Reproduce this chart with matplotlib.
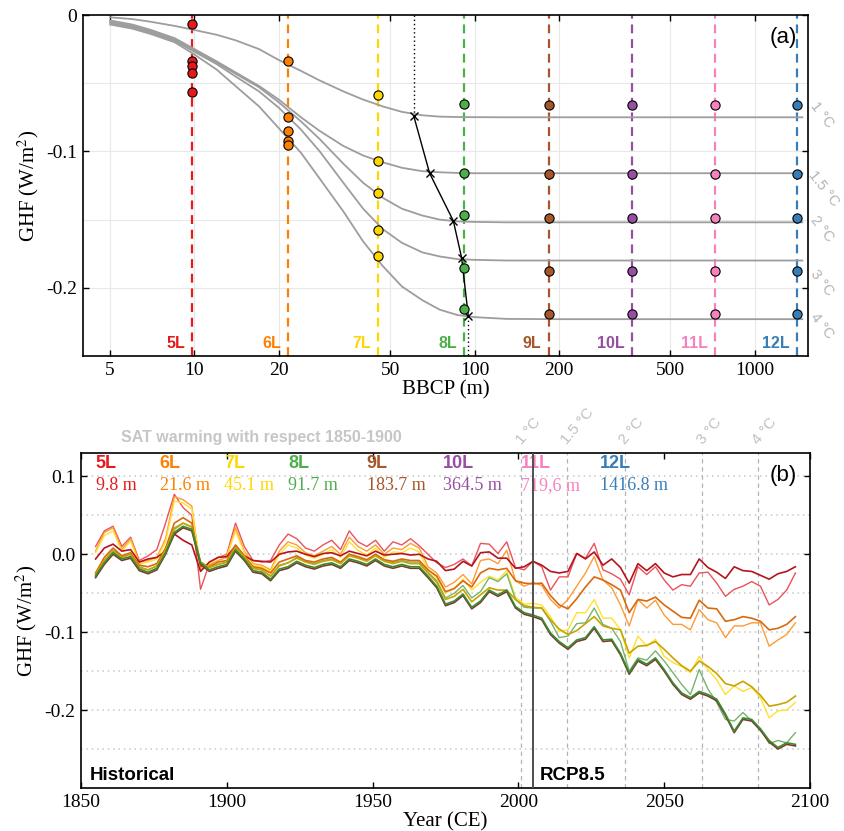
import numpy as np
import matplotlib.pyplot as plt
from matplotlib.ticker import NullLocator
from matplotlib.transforms import blended_transform_factory

plt.rcParams['font.family'] = 'Liberation Serif'
plt.rcParams['mathtext.fontset'] = 'stix'
plt.rcParams['axes.unicode_minus'] = False
SANS = 'Liberation Sans'

# ---------------- data, panel (a) ----------------
layers = ['5L', '6L', '7L', '8L', '9L', '10L', '11L', '12L']
bbcp = [9.8, 21.6, 45.1, 91.7, 183.7, 364.5, 719.6, 1416.8]
depth_labels = ['9.8 m', '21.6 m', '45.1 m', '91.7 m', '183.7 m', '364.5 m', '719,6 m', '1416.8 m']
layer_colors = ['#e41a1c', '#ff7f00', '#ffd700', '#4daf4a', '#a65628', '#984ea3', '#f781bf', '#377eb8']

warming = ['1 °C', '1.5 °C', '2 °C', '3 °C', '4 °C']
# GHF of each layer model for each warming level
ghf_1c = [-0.0066, -0.0334, -0.0585, -0.0654, -0.0657, -0.0657, -0.0657, -0.0657]
ghf_15c = [-0.0337, -0.0749, -0.1068, -0.1156, -0.1167, -0.1167, -0.1167, -0.1167]
ghf_2c = [-0.0373, -0.0854, -0.1307, -0.1468, -0.1485, -0.1485, -0.1485, -0.1485]
ghf_3c = [-0.0427, -0.0927, -0.1578, -0.1856, -0.1880, -0.1880, -0.1880, -0.1880]
ghf_4c = [-0.0561, -0.0951, -0.1766, -0.2154, -0.2194, -0.2194, -0.2194, -0.2194]

# gray reference curves (GHF vs BBCP)
curve_x = [5, 6, 7, 8.5, 10, 12, 14, 17, 20, 24, 28, 34, 40, 47, 55, 65, 75, 87, 100, 130, 200, 1480]
curve_1c = [-0.0017, -0.003, -0.005, -0.008, -0.011, -0.0145, -0.0185, -0.025, -0.033, -0.041, -0.048,
            -0.056, -0.062, -0.067, -0.071, -0.0735, -0.0745, -0.0748, -0.0749, -0.075, -0.075, -0.075]
curve_15c = [-0.004, -0.007, -0.011, -0.017, -0.025, -0.034, -0.042, -0.052, -0.062, -0.075, -0.085,
             -0.096, -0.103, -0.108, -0.112, -0.1145, -0.1153, -0.1158, -0.116, -0.116, -0.116, -0.116]
curve_2c = [-0.005, -0.008, -0.012, -0.018, -0.026, -0.035, -0.043, -0.053, -0.064, -0.078, -0.091,
            -0.109, -0.123, -0.134, -0.142, -0.147, -0.150, -0.1513, -0.1517, -0.152, -0.152, -0.152]
curve_3c = [-0.006, -0.009, -0.013, -0.019, -0.027, -0.036, -0.045, -0.056, -0.068, -0.084, -0.100,
            -0.123, -0.142, -0.157, -0.167, -0.174, -0.177, -0.179, -0.1795, -0.180, -0.180, -0.180]
curve_4c = [-0.007, -0.010, -0.014, -0.020, -0.029, -0.040, -0.052, -0.067, -0.083, -0.101, -0.120,
            -0.144, -0.166, -0.184, -0.199, -0.209, -0.216, -0.220, -0.2215, -0.2228, -0.223, -0.223]

cross_x = [60.7, 69.1, 84.0, 89.9, 95.0]
cross_y = [-0.0743, -0.116, -0.151, -0.178, -0.221]

# ---------------- data, panel (b) ----------------
years = np.arange(1855, 2096, 3)
warming_years = [2001, 2016.5, 2036.5, 2063, 2082]

red_light = [0.010, 0.030, 0.036, 0.010, 0.022, -0.008, -0.002, 0.006, 0.040, 0.077,
             0.060, 0.050, -0.045, -0.012, -0.004, 0.000, 0.040, 0.010, -0.008, -0.010,
             -0.008, 0.012, 0.026, 0.020, 0.008, 0.004, 0.012, 0.018, 0.006, 0.030,
             0.016, 0.010, 0.018, 0.004, 0.016, 0.012, 0.020, 0.011, 0.000, -0.011,
             -0.017, -0.013, -0.006, -0.015, 0.014, 0.013, 0.001, 0.016, -0.017, -0.020,
             -0.009, -0.016, -0.046, -0.029, -0.029, 0.001, -0.005, 0.014, -0.020, -0.025,
             -0.032, -0.052, -0.016, -0.026, -0.016, -0.033, -0.046, -0.039, -0.041, -0.024,
             -0.023, -0.037, -0.054, -0.045, -0.041, -0.035, -0.041, -0.065, -0.058, -0.046, -0.024]
red_dark = [-0.006, 0.008, 0.013, 0.004, 0.006, -0.010, -0.006, -0.004, 0.004, 0.026,
            0.018, 0.012, -0.022, -0.010, -0.004, -0.003, 0.011, -0.002, -0.008, -0.009,
            -0.010, 0.000, 0.003, 0.004, 0.000, -0.003, 0.001, 0.002, -0.002, 0.004,
            0.001, -0.002, 0.004, -0.001, 0.000, 0.001, -0.001, 0.000, -0.006, -0.009,
            -0.021, -0.019, -0.009, -0.015, 0.002, 0.003, -0.005, -0.005, -0.018, -0.016,
            -0.009, -0.014, -0.022, -0.024, -0.022, 0.001, -0.006, 0.003, -0.014, -0.006,
            -0.017, -0.037, -0.012, -0.021, -0.012, -0.024, -0.029, -0.026, -0.026, -0.006,
            -0.017, -0.023, -0.031, -0.016, -0.021, -0.022, -0.027, -0.032, -0.025, -0.022, -0.016]
orange_light = [0.004, 0.028, 0.034, 0.006, 0.020, -0.010, -0.008, -0.004, 0.020, 0.074,
                0.070, 0.062, -0.020, -0.014, -0.008, -0.004, 0.034, 0.004, -0.012, -0.014,
                -0.020, 0.004, 0.016, 0.012, 0.002, -0.002, 0.004, 0.010, 0.000, 0.022,
                0.010, 0.004, 0.012, 0.000, 0.008, 0.006, 0.014, 0.008, -0.016, -0.024,
                -0.042, -0.036, -0.026, -0.038, -0.008, -0.006, -0.012, 0.005, -0.034, -0.041,
                -0.036, -0.040, -0.058, -0.069, -0.058, -0.041, -0.024, -0.003, -0.033, -0.043,
                -0.065, -0.092, -0.058, -0.069, -0.059, -0.078, -0.090, -0.090, -0.097, -0.071,
                -0.084, -0.088, -0.107, -0.092, -0.092, -0.088, -0.088, -0.118, -0.110, -0.103, -0.088]
orange_dark = [-0.024, -0.004, 0.008, -0.002, 0.002, -0.014, -0.016, -0.012, 0.008, 0.040,
               0.047, 0.040, -0.016, -0.016, -0.010, -0.008, 0.012, -0.002, -0.016, -0.018,
               -0.024, -0.010, -0.006, -0.002, -0.008, -0.010, -0.006, -0.004, -0.010, 0.000,
               -0.003, -0.007, 0.000, -0.007, -0.009, -0.006, -0.008, -0.008, -0.020, -0.028,
               -0.048, -0.044, -0.034, -0.042, -0.024, -0.018, -0.020, -0.018, -0.034, -0.037,
               -0.038, -0.037, -0.053, -0.065, -0.070, -0.057, -0.042, -0.029, -0.033, -0.039,
               -0.046, -0.075, -0.058, -0.060, -0.055, -0.065, -0.073, -0.081, -0.082, -0.059,
               -0.069, -0.070, -0.086, -0.084, -0.080, -0.082, -0.086, -0.097, -0.095, -0.090, -0.080]
yellow_light = [0.002, 0.024, 0.030, 0.004, 0.017, -0.012, -0.010, -0.006, 0.016, 0.068,
                0.066, 0.058, -0.016, -0.012, -0.004, -0.002, 0.030, 0.002, -0.014, -0.016,
                -0.022, 0.000, 0.012, 0.008, -0.001, -0.005, 0.000, 0.006, -0.004, 0.016,
                0.005, -0.001, 0.008, -0.004, 0.003, 0.002, 0.008, 0.003, -0.020, -0.030,
                -0.050, -0.044, -0.032, -0.046, -0.036, -0.028, -0.033, -0.021, -0.055, -0.064,
                -0.063, -0.065, -0.080, -0.099, -0.097, -0.075, -0.075, -0.058, -0.082, -0.082,
                -0.097, -0.133, -0.105, -0.118, -0.109, -0.131, -0.139, -0.144, -0.152, -0.131,
                -0.148, -0.161, -0.180, -0.169, -0.176, -0.171, -0.184, -0.210, -0.201, -0.200, -0.190]
yellow_dark = [-0.026, -0.008, 0.004, -0.004, 0.000, -0.017, -0.020, -0.015, 0.005, 0.032,
               0.040, 0.035, -0.010, -0.017, -0.013, -0.010, 0.009, -0.003, -0.018, -0.020,
               -0.028, -0.015, -0.011, -0.005, -0.010, -0.013, -0.009, -0.007, -0.012, -0.002,
               -0.005, -0.009, -0.002, -0.009, -0.012, -0.009, -0.012, -0.012, -0.024, -0.036,
               -0.058, -0.054, -0.045, -0.061, -0.052, -0.043, -0.046, -0.046, -0.058, -0.066,
               -0.068, -0.069, -0.084, -0.096, -0.103, -0.098, -0.089, -0.080, -0.092, -0.095,
               -0.097, -0.127, -0.118, -0.117, -0.112, -0.122, -0.133, -0.143, -0.150, -0.137,
               -0.144, -0.153, -0.166, -0.169, -0.163, -0.170, -0.181, -0.195, -0.193, -0.190, -0.182]
green_light = [-0.027, -0.008, 0.005, -0.003, 0.000, -0.016, -0.020, -0.015, 0.006, 0.034,
               0.040, 0.035, -0.010, -0.017, -0.013, -0.010, 0.010, -0.003, -0.018, -0.020,
               -0.028, -0.014, -0.011, -0.004, -0.009, -0.012, -0.008, -0.006, -0.011, 0.000,
               -0.004, -0.008, 0.000, -0.008, -0.011, -0.008, -0.010, -0.010, -0.023, -0.034,
               -0.056, -0.050, -0.040, -0.056, -0.048, -0.030, -0.035, -0.025, -0.058, -0.068,
               -0.069, -0.069, -0.086, -0.107, -0.105, -0.089, -0.088, -0.069, -0.090, -0.095,
               -0.112, -0.150, -0.133, -0.136, -0.124, -0.137, -0.152, -0.167, -0.180, -0.148,
               -0.173, -0.190, -0.212, -0.214, -0.203, -0.214, -0.224, -0.243, -0.239, -0.242, -0.229]
green_dark = [-0.028, -0.011, 0.002, -0.006, -0.003, -0.019, -0.023, -0.018, 0.002, 0.028,
              0.036, 0.032, -0.011, -0.020, -0.016, -0.013, 0.006, -0.006, -0.021, -0.023,
              -0.032, -0.019, -0.016, -0.009, -0.014, -0.017, -0.013, -0.011, -0.016, -0.006,
              -0.009, -0.013, -0.006, -0.013, -0.016, -0.013, -0.016, -0.016, -0.028, -0.041,
              -0.064, -0.060, -0.051, -0.068, -0.060, -0.046, -0.052, -0.046, -0.067, -0.075,
              -0.078, -0.082, -0.101, -0.112, -0.120, -0.110, -0.107, -0.093, -0.110, -0.109,
              -0.127, -0.152, -0.135, -0.141, -0.133, -0.148, -0.165, -0.178, -0.184, -0.176,
              -0.180, -0.186, -0.205, -0.227, -0.210, -0.212, -0.224, -0.239, -0.248, -0.242, -0.244]
brown = [-0.030, -0.013, 0.000, -0.008, -0.005, -0.021, -0.025, -0.020, 0.000, 0.026,
         0.034, 0.030, -0.013, -0.022, -0.018, -0.015, 0.004, -0.008, -0.023, -0.025,
         -0.034, -0.021, -0.018, -0.011, -0.016, -0.019, -0.015, -0.013, -0.018, -0.008,
         -0.011, -0.015, -0.008, -0.015, -0.018, -0.015, -0.018, -0.018, -0.030, -0.043,
         -0.066, -0.062, -0.053, -0.070, -0.062, -0.048, -0.054, -0.048, -0.069, -0.077,
         -0.080, -0.084, -0.103, -0.114, -0.122, -0.112, -0.109, -0.095, -0.112, -0.111,
         -0.129, -0.154, -0.137, -0.143, -0.135, -0.150, -0.167, -0.180, -0.186, -0.178,
         -0.182, -0.188, -0.207, -0.229, -0.212, -0.214, -0.226, -0.241, -0.250, -0.244, -0.246]

# series, colour, width (light wiggly lines drawn first)
series_b = [
    (red_light, '#ec525a', 1.0),
    (orange_light, '#ff9a36', 1.0),
    (yellow_light, '#ffe12e', 1.0),
    (green_light, '#76b46c', 1.0),
    (red_dark, '#b5141d', 1.2),
    (orange_dark, '#d9690c', 1.2),
    (yellow_dark, '#c9a400', 1.2),
    (brown, '#7c3a2c', 1.2),
    (green_dark, '#3b8a32', 1.2),
]

# ---------------- figure ----------------
fig = plt.figure(figsize=(8.45, 8.31), dpi=100)
ax1 = fig.add_axes([83 / 845, 1 - 356 / 831, 725 / 845, 341 / 831])
ax2 = fig.add_axes([81 / 845, 1 - 788 / 831, 729 / 845, 335 / 831])

# ---- panel (a)
ax1.set_xscale('log')
ax1.set_xlim(4, 1550)
ax1.set_ylim(-0.25, 0)
xt = [5, 10, 20, 50, 100, 200, 500, 1000]
for v in xt:
    ax1.axvline(v, color='#e8e8e8', lw=0.8, zorder=0)
for v in [-0.05, -0.1, -0.15, -0.2]:
    ax1.axhline(v, color='#e8e8e8', lw=0.8, zorder=0)
ax1.set_xticks(xt)
ax1.set_xticklabels([str(v) for v in xt])
ax1.xaxis.set_minor_locator(NullLocator())
ax1.set_yticks([0, -0.1, -0.2])
ax1.set_yticklabels(['0', '-0.1', '-0.2'])

for x, c in zip(bbcp, layer_colors):
    ax1.axvline(x, color=c, ls=(0, (4, 2.6)), lw=1.6, zorder=1)

curves = [curve_1c, curve_15c, curve_2c, curve_3c, curve_4c]
for cv in curves:
    ax1.plot(curve_x, cv, color='#9d9d9d', lw=1.3, zorder=2)

ax1.plot(cross_x, cross_y, color='k', marker='x', ms=6, mew=1, lw=1, zorder=3)
ax1.plot([cross_x[0], cross_x[0]], [0, cross_y[0]], 'k', ls=(0, (1, 2)), lw=1, zorder=3)
ax1.plot([cross_x[-1], cross_x[-1]], [cross_y[-1], -0.25], 'k', ls=(0, (1, 2)), lw=1, zorder=3)

levels = [ghf_1c, ghf_15c, ghf_2c, ghf_3c, ghf_4c]
for j, (x, c) in enumerate(zip(bbcp, layer_colors)):
    ax1.scatter([x] * len(levels), [lv[j] for lv in levels], s=44, color=c,
                edgecolors='k', linewidths=0.8, zorder=4)
    ax1.text(x / 1.06, -0.2405, layers[j], color=c, ha='right', va='center',
             family=SANS, weight='bold', fontsize=11.5)

tr1 = blended_transform_factory(ax1.transAxes, ax1.transData)
lab_dx = [1.019, 1.021, 1.019, 1.019, 1.019]
lab_dy = [0.0015, -0.011, -0.005, -0.016, -0.005]
for cv, lab, dx, dy in zip(curves, warming, lab_dx, lab_dy):
    ax1.text(dx, cv[-1] + dy, lab, transform=tr1, rotation=-52, ha='center', va='center',
             rotation_mode='anchor', color='#b4b4b4', family=SANS, fontsize=10.5, clip_on=False)

ax1.text(0.985, 0.935, '(a)', transform=ax1.transAxes, ha='right', va='center',
         family=SANS, fontsize=16)
ax1.set_xlabel('BBCP (m)', fontsize=15, labelpad=1)
ax1.set_ylabel('GHF (W/m$^2$)', fontsize=15, labelpad=4)

# ---- panel (b)
ax2.set_xlim(1850, 2100)
ax2.set_ylim(-0.3, 0.13)
for v in [0.1, 0.05, 0.0, -0.05, -0.1, -0.15, -0.2, -0.25]:
    ax2.axhline(v, color='#c8c8c8', ls=(0, (1, 2.5)), lw=1.1, zorder=0)
for yr in warming_years:
    ax2.axvline(yr, color='#b4b4b4', ls=(0, (3.5, 3)), lw=0.9, zorder=0)
ax2.axvline(2005, color='#4f4f4f', lw=1.4, zorder=5)

for vals, c, lw in series_b:
    ax2.plot(years, vals, color=c, lw=lw, zorder=3)

ax2.set_xticks([1850, 1900, 1950, 2000, 2050, 2100])
ax2.set_yticks([0.1, 0.0, -0.1, -0.2])
ax2.set_yticklabels(['0.1', '0.0', '-0.1', '-0.2'])

leg_x = [1855, 1877, 1899, 1921, 1948, 1974, 2001, 2028]
tr2 = blended_transform_factory(ax2.transData, ax2.transAxes)
for x, lay, dl, c in zip(leg_x, layers, depth_labels, layer_colors):
    ax2.text(x, 0.970, lay, transform=tr2, color=c, ha='left', va='center',
             family=SANS, weight='bold', fontsize=13)
    ax2.text(x, 0.903, dl, transform=tr2, color=c, ha='left', va='center', fontsize=13)

for yr, lab in zip(warming_years, warming):
    ax2.text(yr + 1.0, 1.017, lab, transform=tr2, rotation=50, ha='left', va='bottom',
             rotation_mode='anchor', color='#c0c0c0', family=SANS, fontsize=11, clip_on=False)

ax2.text(0.247, 1.045, 'SAT warming with respect 1850-1900', transform=ax2.transAxes,
         ha='center', va='center', color='#c6c6c6', family=SANS, weight='bold', fontsize=11.5)
ax2.text(0.0123, 0.036, 'Historical', transform=ax2.transAxes, ha='left', va='center',
         family=SANS, weight='bold', fontsize=13.5)
ax2.text(2007.4, 0.036, 'RCP8.5', transform=tr2, ha='left', va='center',
         family=SANS, weight='bold', fontsize=13.5)
ax2.text(0.982, 0.934, '(b)', transform=ax2.transAxes, ha='right', va='center',
         family=SANS, fontsize=16)
ax2.set_xlabel('Year (CE)', fontsize=15, labelpad=1)
ax2.set_ylabel('GHF (W/m$^2$)', fontsize=15, labelpad=4)

for ax in (ax1, ax2):
    ax.tick_params(direction='in', top=True, right=True, length=4, width=1,
                   labelsize=14, pad=4)
    for sp in ax.spines.values():
        sp.set_linewidth(1.2)

fig.savefig('out.png', dpi=100)
